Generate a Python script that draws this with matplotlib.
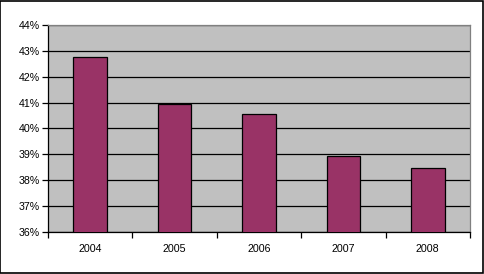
import matplotlib.pyplot as plt
from matplotlib.patches import Rectangle
from matplotlib.ticker import FuncFormatter

# data
years = ["2004", "2005", "2006", "2007", "2008"]
shares = [42.78, 40.94, 40.55, 38.93, 38.46]
y_ticks = [36, 37, 38, 39, 40, 41, 42, 43, 44]

plt.rcParams["font.family"] = ["Liberation Sans", "DejaVu Sans"]

fig = plt.figure(figsize=(4.85, 2.74), dpi=100)
ax = fig.add_axes([48 / 485, 42 / 274, 422 / 485, 207 / 274])
ax.set_facecolor("#C0C0C0")

x = range(len(years))
ax.bar(x, shares, width=0.4, color="#993366", edgecolor="black",
       linewidth=0.9, zorder=3)

ax.set_xlim(-0.5, len(years) - 0.5)
ax.set_ylim(36, 44)
ax.set_yticks(y_ticks)
ax.yaxis.set_major_formatter(FuncFormatter(lambda v, p: f"{v:.0f}%"))
ax.grid(axis="y", color="black", linewidth=0.9, zorder=1)

ax.set_xticks(list(x))
ax.set_xticklabels(years)
ax.set_xticks([i - 0.5 for i in range(len(years) + 1)], minor=True)
ax.tick_params(axis="x", which="major", length=0, pad=9, labelsize=7.7)
ax.tick_params(axis="x", which="minor", length=4, width=0.9, direction="out")
ax.tick_params(axis="y", length=4, width=0.9, pad=2, labelsize=7.7)

ax.spines["left"].set_color("black")
ax.spines["bottom"].set_color("black")
ax.spines["top"].set_color("#808080")
ax.spines["right"].set_color("#808080")
for s in ax.spines.values():
    s.set_linewidth(0.9)

# outer chart frame
fig.patches.append(Rectangle((0.001, 0.002), 0.994, 0.995, transform=fig.transFigure,
                             fill=False, edgecolor="black", linewidth=1.2))

fig.savefig("out.png", dpi=100)
